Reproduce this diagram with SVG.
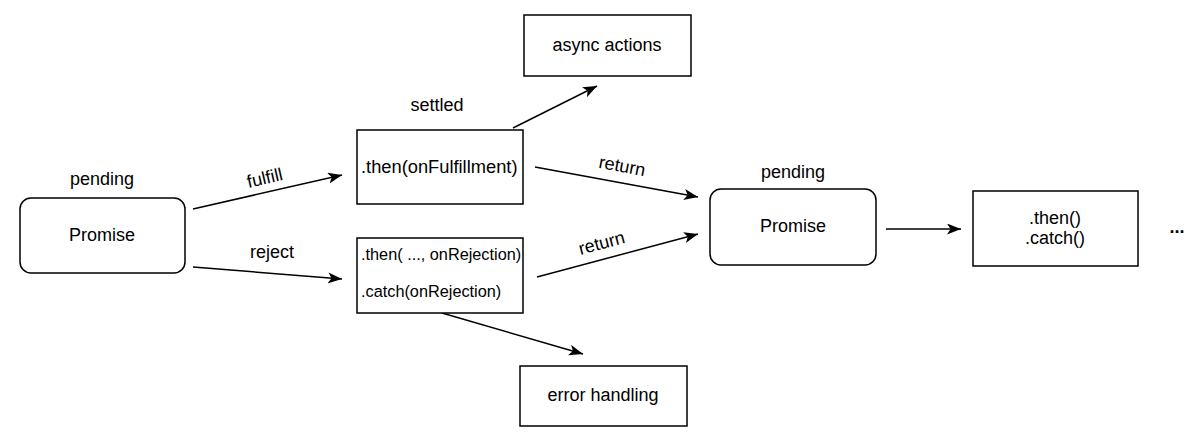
<svg xmlns="http://www.w3.org/2000/svg" width="1199" height="445" viewBox="0 0 1199 445">
<style>
text{font-family:"Liberation Sans",Arial,sans-serif;font-size:18px;fill:#000}
.c{text-anchor:middle}
.s{font-size:16.3px}
.box{fill:#fff;stroke:#000;stroke-width:1.5}
.edge{fill:none;stroke:#000;stroke-width:1.5}
</style>
<defs>
<marker id="ah" markerUnits="userSpaceOnUse" markerWidth="16" markerHeight="12" refX="14" refY="5.5" orient="auto">
<path d="M0,0 L14,5.5 L0,11 L3.5,5.5 z" fill="#000"/>
</marker>
</defs>
<g id="connectors">
<path class="edge" d="M193,209 L342,175" marker-end="url(#ah)"/>
<path class="edge" d="M193,267 L342,279" marker-end="url(#ah)"/>
<path class="edge" d="M513,128 L597,86" marker-end="url(#ah)"/>
<path class="edge" d="M535,167 L698,197" marker-end="url(#ah)"/>
<path class="edge" d="M537,277 L698,234" marker-end="url(#ah)"/>
<path class="edge" d="M442,313 L583,354" marker-end="url(#ah)"/>
<path class="edge" d="M886,229 L961,229" marker-end="url(#ah)"/>
<text class="c" transform="translate(265,179) rotate(-13)" dy="5">fulfill</text>
<text class="c" x="272" y="258">reject</text>
<text class="c" transform="translate(622,167) rotate(10.5)" dy="5">return</text>
<text class="c" transform="translate(602,244) rotate(-15)" dy="5">return</text>
</g>
<g id="promise1">
<text class="c" x="102" y="185">pending</text>
<rect class="box" x="20" y="198" width="165" height="75" rx="11"/>
<text class="c" x="102" y="241">Promise</text>
</g>
<g id="then-fulfill">
<text class="c" x="437" y="111">settled</text>
<rect class="box" x="357" y="130" width="166" height="74"/>
<text x="361" y="173" style="font-size:18.3px">.then(onFulfillment)</text>
</g>
<g id="then-reject">
<rect class="box" x="357" y="238" width="166" height="75"/>
<text class="s" x="361" y="260">.then( ..., onRejection)</text>
<text class="s" x="361" y="297">.catch(onRejection)</text>
</g>
<g id="async-actions">
<rect class="box" x="524" y="15" width="167" height="61"/>
<text class="c" x="607" y="51">async actions</text>
</g>
<g id="error-handling">
<rect class="box" x="520" y="366" width="167" height="60"/>
<text class="c" x="603" y="401">error handling</text>
</g>
<g id="promise2">
<text class="c" x="793" y="178">pending</text>
<rect class="box" x="710" y="189" width="166" height="76" rx="11"/>
<text class="c" x="793" y="232">Promise</text>
</g>
<g id="then-catch">
<rect class="box" x="973" y="191" width="165" height="75"/>
<text class="c" x="1055" y="224">.then()</text>
<text class="c" x="1055" y="244">.catch()</text>
</g>
<g id="ellipsis">
<text class="c" x="1177" y="233" style="font-weight:bold">...</text>
</g>
</svg>
